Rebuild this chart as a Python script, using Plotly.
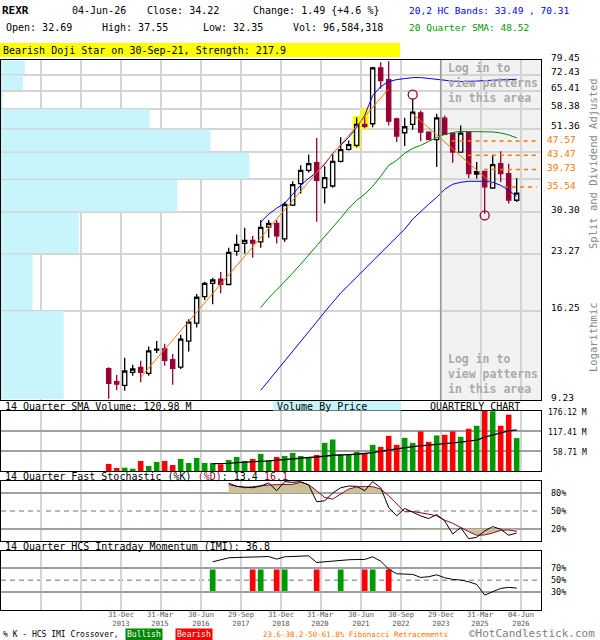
import numpy as np
import plotly.graph_objects as go

# ---------------- data ----------------
ticker = "REXR"
last_date = "04-Jun-26"
# quarter index: 0 = quarter ending 30-Sep-2013 ... 51 = current quarter (04-Jun-2026)
quarter_idx = list(range(52))

opens = [11.25, 10.37, 10.13, 10.99, 11.34, 10.92, 12.66, 12.76, 11.91, 11.37,
         13.40, 15.01, 17.75, 19.32, 19.85, 19.18, 23.65, 24.87, 25.35, 25.12,
         27.57, 28.22, 25.60, 31.68, 36.33, 39.51, 41.48, 35.43, 35.78, 41.82,
         45.10, 46.27, 52.83, 53.06, 75.56, 70.18, 54.76, 50.12, 52.83, 56.87,
         50.32, 47.96, 54.97, 49.81, 44.35, 50.22, 38.60, 39.26, 35.33, 41.21,
         38.69, 32.69]
highs = [11.35, 10.81, 12.06, 11.54, 11.83, 12.95, 13.42, 13.18, 12.36, 13.95,
         15.40, 18.06, 19.52, 20.02, 20.75, 24.19, 26.33, 27.45, 26.05, 28.81,
         28.87, 28.81, 32.35, 36.86, 40.78, 43.71, 48.45, 40.60, 43.91, 48.75,
         47.74, 55.21, 55.56, 76.18, 78.28, 78.77, 55.10, 55.10, 62.13, 57.70,
         50.60, 56.52, 55.91, 50.10, 52.49, 50.50, 41.63, 39.40, 43.63, 44.55,
         41.21, 37.55]
lows = [9.30, 9.81, 9.79, 10.76, 10.32, 10.76, 12.42, 11.47, 10.17, 11.23,
        12.55, 14.60, 17.39, 16.92, 18.14, 19.08, 23.00, 23.35, 22.71, 24.19,
        25.77, 24.87, 25.12, 31.53, 34.11, 39.00, 28.51, 32.01, 35.40, 41.50,
        44.80, 45.70, 51.61, 51.93, 66.18, 52.49, 47.24, 46.06, 51.09, 47.54,
        47.80, 40.34, 49.50, 41.48, 44.20, 37.64, 37.50, 30.00, 35.20, 36.70,
        32.01, 32.35]
closes = [10.25, 10.21, 11.09, 11.23, 10.99, 12.60, 12.74, 11.86, 11.27, 13.57,
          15.11, 17.69, 19.32, 19.73, 19.20, 23.50, 24.72, 25.35, 24.92, 27.52,
          28.22, 26.09, 31.82, 36.10, 39.51, 41.21, 37.09, 37.73, 41.82, 45.03,
          46.47, 52.83, 52.16, 75.56, 69.74, 53.94, 49.07, 52.06, 57.09, 50.32,
          47.96, 55.10, 49.59, 44.35, 50.00, 38.69, 39.19, 35.56, 40.96, 38.69,
          32.73, 34.22]
volume_m = [20.7, 8.9, 9.8, 6.9, 29.5, 14.8, 26.6, 29.5, 17.7, 35.4,
            23.6, 38.4, 23.6, 23.6, 19.7, 32.5, 41.3, 29.5, 35.4, 50.2,
            31.5, 41.3, 44.3, 53.1, 44.3, 41.3, 47.2, 82.6, 92.5, 48.2,
            48.2, 56.1, 52.1, 76.7, 70.8, 103.3, 76.7, 97.4, 82.6, 116.1,
            85.6, 104.3, 106.3, 116.1, 100.4, 124.0, 132.8, 176.12, 175.5, 132.8,
            165.3, 96.584318]

vol_sma_start = 13
vol_sma14 = [21.6, 21.6, 22.6, 24.6, 26.6, 27.5, 28.5, 29.5, 31.5, 32.5,
             34.4, 36.4, 37.4, 39.4, 43.3, 46.2, 48.2, 48.2, 49.2, 51.2,
             54.1, 58.0, 62.0, 65.9, 68.9, 71.8, 73.8, 75.8, 77.7, 78.7,
             80.7, 84.6, 87.6, 90.5, 99.4, 106.3, 113.1, 118.0, 120.98]

band_start = 19
hc_upper = [28.46, 29.93, 31.09, 32.08, 33.95, 35.94, 37.56, 39.01, 41.04, 43.99,
            46.27, 48.67, 51.84, 55.91, 63.43, 67.14, 69.30, 70.18, 70.62, 71.08,
            71.08, 70.62, 70.18, 69.74, 69.52, 69.30, 69.30, 69.52, 69.74, 69.96,
            70.05, 70.18, 70.31]
hc_lower = [9.81, 10.43, 11.11, 11.83, 12.52, 13.34, 14.21, 15.13, 16.12, 17.17,
            18.17, 19.11, 20.11, 21.15, 22.24, 23.40, 24.61, 25.88, 27.23, 29.00,
            30.50, 31.88, 33.32, 35.04, 36.17, 36.63, 36.86, 36.86, 36.86, 36.63,
            35.94, 34.82, 33.49]
sma20 = [16.57, 17.61, 18.52, 19.61, 20.62, 21.82, 23.10, 24.45, 26.05, 27.57,
         29.18, 31.09, 32.69, 33.95, 35.72, 38.04, 40.78, 42.09, 43.99, 45.40,
         46.27, 47.45, 48.67, 49.59, 50.22, 50.54, 50.54, 50.54, 50.54, 50.38,
         50.06, 49.44, 48.52]

stoch_start = 15
stoch_k = [96.4, 91.1, 90.0, 88.8, 91.6, 96.7, 83.8, 98.9, 97.8, 98.9,
           93.3, 65.4, 67.0, 79.9, 88.8, 91.6, 91.1, 83.8, 98.9, 88.8,
           55.9, 41.9, 54.2, 47.5, 41.9, 37.4, 44.1, 33.5, 11.7, 22.3,
           3.9, 6.1, 16.8, 24.0, 19.6, 9.5, 13.4]
stoch_d = [93.9, 91.1, 88.8, 90.5, 92.2, 93.3, 93.9, 93.9, 94.4, 97.8,
           93.9, 83.8, 72.6, 69.8, 78.2, 86.6, 90.0, 91.1, 90.5, 86.6,
           75.4, 62.0, 48.6, 49.2, 47.5, 44.7, 41.9, 34.6, 29.6, 22.3,
           15.6, 9.5, 10.1, 13.4, 17.9, 18.4, 16.1]

imi_start = 13
imi = [81.0, 83.8, 87.7, 88.3, 88.3, 88.3, 89.4, 89.9, 85.5, 89.4,
       89.9, 91.1, 91.1, 79.9, 81.0, 83.2, 83.8, 84.4, 84.9, 84.9,
       89.4, 82.1, 68.7, 60.9, 60.3, 59.8, 54.7, 55.9, 59.2, 54.2,
       51.4, 50.3, 47.5, 43.0, 25.1, 30.7, 36.3, 38.0, 36.8]

cross_q = [13, 18, 19, 21, 22, 26, 29, 32, 33, 35]
cross_type = ["Bullish", "Bearish", "Bullish", "Bearish", "Bullish",
              "Bearish", "Bullish", "Bearish", "Bullish", "Bearish"]
cross_low, cross_high = 32.0, 68.0

price_grid = [9.23, 16.25, 23.27, 30.30, 37.32, 44.34, 51.36, 58.38, 65.41, 72.43, 79.45]
price_labels = [79.45, 72.43, 65.41, 58.38, 51.36, 30.30, 23.27, 16.25, 9.23]
fib_levels = [47.57, 43.47, 39.73, 35.54]

rise_trend_q, rise_trend_p = [4, 35], [10.66, 66.2]
fall_trend_q, fall_trend_p = [38, 48], [56.5, 36.2]

pattern_q = [31, 32]
pattern_low = [45.5, 51.3]
pattern_high = [55.8, 58.4]
pattern_text = "Bearish Doji Star on 30-Sep-21, Strength: 217.9"

pivot_q = [38, 47]
pivot_p = [63.8, 29.7]

vbp_rel = [25.2, 12.7, 31.3, 71.0, 100.0, 84.3, 59.8, 0.7, 8.8, 9.6]   # bands from 9.23 upward

xgrid_q = [-8.5, -3.5, 1.5, 6.5, 11.5, 16.5, 21.5, 26.5, 31.5, 36.5, 41.5, 46.5, 51.5]
xtick_q = [1.5, 6.5, 11.5, 16.5, 21.5, 26.5, 31.5, 36.5, 41.5, 46.5, 51.5]
xtick_text = ["31-Dec<br>2013", "31-Mar<br>2015", "30-Jun<br>2016", "29-Sep<br>2017",
              "31-Dec<br>2018", "31-Mar<br>2020", "30-Jun<br>2021", "30-Sep<br>2022",
              "29-Dec<br>2023", "31-Mar<br>2025", "04-Jun<br>2026"]
vol_grid = [58.71, 117.41]
vol_max = 176.12
first_hidden_q = 42

# ---------------- styling / layout helpers ----------------
FONT = "DejaVu Sans Mono"
W, H = 600, 640
RED = "#990033"
ORANGE = "#ff7700"
GRID = "#d4d4d4"
HGRID = "#a0a0a0"


def px(x):
    return x / W


def py(y):
    return 1 - y / H


X0, X1 = -13.46, 54.04
XDOM = [px(1), px(541)]

fig = go.Figure()

# volume-by-price bands (overlay axis x5 on the price axis)
for lo, hi, w in zip(price_grid[:-1], price_grid[1:], vbp_rel):
    g = 1.004
    fig.add_trace(go.Scatter(x=[0, w, w, 0, 0], y=[lo * g, lo * g, hi / g, hi / g, lo * g],
                             fill="toself", fillcolor="#c8f4fc", mode="lines",
                             line=dict(width=0, color="#c8f4fc"), xaxis="x5", yaxis="y",
                             hoverinfo="skip"))

# pattern highlight
fig.add_trace(go.Bar(x=pattern_q, base=pattern_low,
                     y=[h - l for h, l in zip(pattern_high, pattern_low)],
                     width=1.0, marker=dict(color="#ffff00", line=dict(width=0)),
                     xaxis="x", yaxis="y", hoverinfo="skip"))

# bands and SMA
bq = quarter_idx[band_start:]
fig.add_trace(go.Scatter(x=bq, y=sma20, mode="lines", line=dict(color="#008800", width=1),
                         xaxis="x", yaxis="y", hoverinfo="skip"))
fig.add_trace(go.Scatter(x=bq, y=hc_upper, mode="lines", line=dict(color="#0000ff", width=1),
                         xaxis="x", yaxis="y", hoverinfo="skip"))
fig.add_trace(go.Scatter(x=bq, y=hc_lower, mode="lines", line=dict(color="#0000ff", width=1),
                         xaxis="x", yaxis="y", hoverinfo="skip"))

# trendlines
fig.add_trace(go.Scatter(x=rise_trend_q, y=rise_trend_p, mode="lines",
                         line=dict(color=ORANGE, width=1), xaxis="x", yaxis="y", hoverinfo="skip"))
fig.add_trace(go.Scatter(x=fall_trend_q, y=fall_trend_p, mode="lines",
                         line=dict(color=ORANGE, width=1), xaxis="x", yaxis="y", hoverinfo="skip"))

# fibonacci retracement lines: start one quarter after the falling trendline crosses the level
slope = np.log(fall_trend_p[1] / fall_trend_p[0]) / (fall_trend_q[1] - fall_trend_q[0])
for lvl in fib_levels:
    qc = fall_trend_q[0] + np.log(lvl / fall_trend_p[0]) / slope + 1.0
    fig.add_trace(go.Scatter(x=[qc, 53.5], y=[lvl, lvl], mode="lines",
                             line=dict(color=ORANGE, width=1.5, dash="4px,4px"),
                             xaxis="x", yaxis="y", hoverinfo="skip"))

# candles
fig.add_trace(go.Candlestick(x=quarter_idx, open=opens, high=highs, low=lows, close=closes,
                             increasing=dict(line=dict(color="black", width=1.3), fillcolor="white"),
                             decreasing=dict(line=dict(color=RED, width=1.3), fillcolor=RED),
                             whiskerwidth=0, xaxis="x", yaxis="y", hoverinfo="skip"))

# pivot circles
fig.add_trace(go.Scatter(x=pivot_q, y=pivot_p, mode="markers",
                         marker=dict(symbol="circle-open", size=9, color=RED, line=dict(width=1.3)),
                         xaxis="x", yaxis="y", hoverinfo="skip"))

# volume panel
vcol = ["#ff0000" if c < o else "#009900" for o, c in zip(opens, closes)]
fig.add_trace(go.Bar(x=quarter_idx, y=volume_m, width=0.7, marker=dict(color=vcol, line=dict(width=0)),
                     xaxis="x2", yaxis="y2", hoverinfo="skip"))
fig.add_trace(go.Scatter(x=quarter_idx[vol_sma_start:], y=vol_sma14, mode="lines",
                         line=dict(color="black", width=1.3), xaxis="x2", yaxis="y2", hoverinfo="skip"))

# stochastic panel
sq = np.array(quarter_idx[stoch_start:], dtype=float)
dd = np.array(stoch_d)
xd = np.linspace(sq[0], sq[-1], (len(sq) - 1) * 20 + 1)
yd = np.interp(xd, sq, dd)
TAN = "rgb(200,194,150)"
for yy, lvl in ((np.maximum(yd, 80), 80), (np.minimum(yd, 20), 20)):
    fig.add_trace(go.Scatter(x=np.concatenate([xd, xd[::-1]]),
                             y=np.concatenate([yy, np.full_like(xd, lvl)]),
                             fill="toself", fillcolor=TAN, mode="lines", line=dict(width=0),
                             xaxis="x3", yaxis="y3", hoverinfo="skip"))
fig.add_trace(go.Scatter(x=sq, y=stoch_d, mode="lines", line=dict(color=RED, width=1),
                         xaxis="x3", yaxis="y3", hoverinfo="skip"))
fig.add_trace(go.Scatter(x=sq, y=stoch_k, mode="lines", line=dict(color="black", width=1),
                         xaxis="x3", yaxis="y3", hoverinfo="skip"))

# IMI panel
ccol = ["#009900" if t == "Bullish" else "#ff0000" for t in cross_type]
fig.add_trace(go.Bar(x=cross_q, base=[cross_low] * len(cross_q), y=[cross_high - cross_low] * len(cross_q),
                     width=0.72, marker=dict(color=ccol, line=dict(width=0)),
                     xaxis="x4", yaxis="y4", hoverinfo="skip"))
fig.add_trace(go.Scatter(x=quarter_idx[imi_start:], y=imi, mode="lines",
                         line=dict(color="black", width=1), xaxis="x4", yaxis="y4", hoverinfo="skip"))

# ---------------- axes ----------------
frame = dict(showline=True, mirror=True, linecolor="black", linewidth=1, zeroline=False, ticks="")
xcommon = dict(domain=XDOM, range=[X0, X1], tickvals=xgrid_q, showticklabels=False,
               showgrid=True, gridcolor=GRID, gridwidth=1.5, **frame)

layout = dict(
    width=W, height=H, margin=dict(l=0, r=0, t=0, b=0), autosize=False,
    paper_bgcolor="white", plot_bgcolor="white", showlegend=False, boxgap=0.25,
    barmode="overlay",
    xaxis=dict(anchor="y", rangeslider=dict(visible=False), **xcommon),
    yaxis=dict(anchor="x", domain=[py(400), py(60)], type="log",
               range=[np.log10(price_grid[0]), np.log10(price_grid[-1])],
               tickvals=price_grid, showticklabels=False, showgrid=True,
               gridcolor=GRID, gridwidth=1.5, **frame),
    xaxis5=dict(overlaying="x", anchor="y", range=[0, 100 * 539 / 248], visible=False),
    xaxis2=dict(anchor="y2", **xcommon),
    yaxis2=dict(anchor="x2", domain=[py(471), py(411)], range=[0, vol_max], tickvals=vol_grid,
                showticklabels=False, showgrid=True, gridcolor=HGRID, gridwidth=1.5, **frame),
    xaxis3=dict(anchor="y3", **xcommon),
    yaxis3=dict(anchor="x3", domain=[py(541), py(481)], range=[0, 100], tickvals=[20, 80],
                showticklabels=False, showgrid=True, gridcolor=HGRID, gridwidth=1.5, **frame),
    xaxis4=dict(anchor="y4", **xcommon),
    yaxis4=dict(anchor="x4", domain=[py(610), py(550.5)], range=[0, 100], tickvals=[30, 70],
                showticklabels=False, showgrid=True, gridcolor=HGRID, gridwidth=1.5, **frame),
)
fig.update_layout(**layout)

# ---------------- shapes ----------------
shapes = [
    dict(type="rect", xref="x", yref="paper", x0=first_hidden_q - 0.5, x1=X1, y0=py(400), y1=py(60),
         fillcolor="#f2f2f2", line=dict(width=0), layer="below"),
    dict(type="line", xref="x", yref="paper", x0=first_hidden_q - 0.5, x1=first_hidden_q - 0.5,
         y0=py(400), y1=py(60), line=dict(color="#999999", width=1.5), layer="above"),
    dict(type="rect", xref="paper", yref="paper", x0=0, x1=px(400), y0=py(57), y1=py(43),
         fillcolor="#ffff00", line=dict(width=0)),
    dict(type="rect", xref="paper", yref="paper", x0=px(273), x1=px(401), y0=py(410.5), y1=py(401),
         fillcolor="#c8f4fc", line=dict(width=0)),
    dict(type="line", xref="paper", yref="y3", x0=XDOM[0], x1=XDOM[1], y0=50, y1=50,
         line=dict(color=HGRID, width=1.5, dash="5px,4px"), layer="below"),
    dict(type="line", xref="paper", yref="y4", x0=XDOM[0], x1=XDOM[1], y0=50, y1=50,
         line=dict(color=HGRID, width=1.5, dash="5px,4px"), layer="below"),
]
fig.update_layout(shapes=shapes)

# ---------------- annotations ----------------
ann = []


def A(text, x, y, size=10, color="black", xanchor="left", **kw):
    d = dict(text=text, x=px(x), y=py(y), xref="paper", yref="paper", xanchor=xanchor,
             yanchor="middle", showarrow=False, font=dict(family=FONT, size=size, color=color))
    d.update(kw)
    ann.append(d)


chg = closes[-1] - closes[-2]
A(f"<b>{ticker}</b>", 0, 10, size=11)
A(last_date, 70, 10)
A(f"Close: {closes[-1]:.2f}", 145, 10)
A(f"Change: {chg:.2f} {{{chg / closes[-2] * 100:+.1f} %}}", 251, 10)
A(f"Open: {opens[-1]:.2f}", 4, 27.5)
A(f"High: {highs[-1]:.2f}", 100, 27.5)
A(f"Low: {lows[-1]:.2f}", 201, 27.5)
A(f"Vol: {int(round(volume_m[-1] * 1e6)):,}", 291, 27.5)
A(f"20,2 HC Bands: {hc_lower[-1]:.2f} , {hc_upper[-1]:.2f}", 407, 10, size=9.5, color="#0000ff")
A(f"20 Quarter SMA: {sma20[-1]:.2f}", 407, 27.5, size=9.5, color="#009900")
A(pattern_text, 1, 50)

# price labels
for v in price_labels:
    ann.append(dict(text=f"{v:.2f}", x=px(549), y=np.log10(v), xref="paper", yref="y",
                    xanchor="left", yanchor="middle", yshift=3, showarrow=False,
                    font=dict(family=FONT, size=9.5, color="black")))
for v in fib_levels:
    ann.append(dict(text=f"{v:.2f}", x=px(545), y=np.log10(v), xref="paper", yref="y",
                    xanchor="left", yanchor="middle", yshift=2, showarrow=False,
                    font=dict(family=FONT, size=9.5, color=ORANGE)))

# login notes
for yc in (82.5, 373.5):
    A("<b>Log in to<br>view patterns<br>in this area</b>", 446, yc, size=11.5, color="#aaaaaa",
      align="left")

# right-hand vertical captions
A("Split and Dividend Adjusted", 593, 164, size=10.5, color="#888888", xanchor="center", textangle=-90)
A("Logarithmic", 593, 337, size=10.5, color="#888888", xanchor="center", textangle=-90)

# panel caption rows
A(f"14 Quarter SMA Volume: {vol_sma14[-1]:.2f} M", 3, 406.5)
A("Volume By Price", 275, 406.5)
A("QUARTERLY CHART", 474.5, 406.5, xanchor="center")
A(f"14 Quarter Fast Stochastic (%K) <span style='color:{RED}'>(%D)</span>: {stoch_k[-1]:.1f} "
  f"<span style='color:{RED}'>{stoch_d[-1]:.1f}</span>", 3, 476.5)
A(f"14 Quarter HCS Intraday Momentum (IMI): {imi[-1]:.1f}", 3, 546)

# lower panel right labels
for v in [vol_max] + vol_grid[::-1]:
    ann.append(dict(text=f"{v:.2f} M", x=px(589), y=v, xref="paper", yref="y2",
                    xanchor="right", yanchor="middle", yshift=-1.5, showarrow=False,
                    font=dict(family=FONT, size=8, color="black")))
for v in (80, 50, 20):
    ann.append(dict(text=f"{v}%", x=px(549), y=v, xref="paper", yref="y3", xanchor="left",
                    yanchor="middle", showarrow=False, font=dict(family=FONT, size=8.5, color="black")))
for v in (70, 50, 30):
    ann.append(dict(text=f"{v}%", x=px(549), y=v, xref="paper", yref="y4", xanchor="left",
                    yanchor="middle", showarrow=False, font=dict(family=FONT, size=8.5, color="black")))

# x tick labels
for q, t in zip(xtick_q, xtick_text):
    ann.append(dict(text=t, x=q, y=py(618.8), xref="x4", yref="paper", xanchor="center",
                    yanchor="middle", showarrow=False,
                    font=dict(family=FONT, size=7.2, color="#555555")))

# footer
A("% K - HCS IMI Crossover,", 1, 634.5, size=8)
A("Bullish", 144, 634.5, size=8, color="white", xanchor="center", bgcolor="#008800", borderpad=1)
A("Bearish", 194, 634.5, size=8, color="white", xanchor="center", bgcolor="#ff0000", borderpad=1)
A("23.6-38.2-50-61.8% Fibonacci Retracements", 261, 634.5, size=7.5, color=ORANGE)
A("\u00a9HotCandlestick.com", 597, 633.5, size=11, color="#808080", xanchor="right")

fig.update_layout(annotations=ann)

fig.write_html("out.html", config={"displayModeBar": False},
               post_script="document.body.style.margin='0px';")
